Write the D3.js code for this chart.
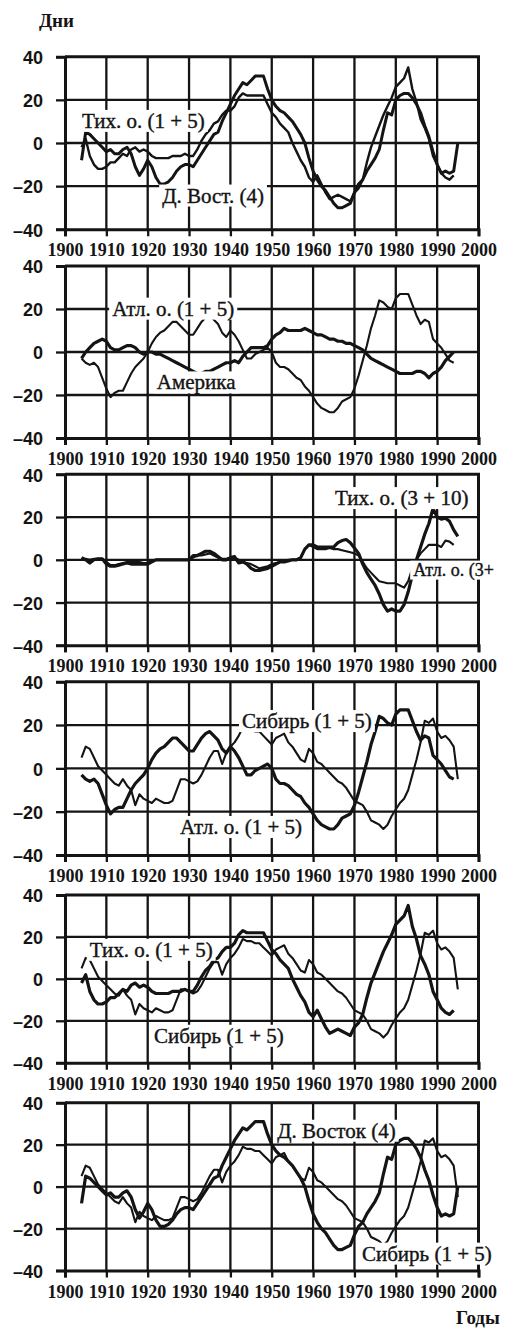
<!DOCTYPE html>
<html><head><meta charset="utf-8">
<script src="https://cdn.jsdelivr.net/npm/d3@7"></script>
<style>body{margin:0;background:#fff} svg{display:block}</style>
</head><body>
<svg id="c" width="506" height="1330"></svg>
<script>
const years = d3.range(1904, 1996);

const pacific15 = [
 -2, 2, -6, -10, -12, -12,
 -11, -9, -9, -7, -5, -6, -3, -2, -4, -3,
 -4, -6, -7, -7, -7, -7, -6, -6, -6, -5,
 -6, -6, -3, 1, 4, 6, 9, 10, 13, 15,
 15, 17, 21, 23, 22, 22, 22, 22, 22, 18,
 14, 12, 9, 7, 5, 0, -4, -8, -11, -16,
 -18, -15, -19, -23, -26, -25, -24, -25, -26, -27,
 -23, -21, -17, -9, -2, 3, 8, 13, 17, 21,
 26, 28, 30, 35, 25, 19, 11, 7, 2, -6,
 -10, -14, -16, -17, -15, null];

const farEast = [
 -8, 5, 4, 2, 0, -2,
 -4, -3, -5, -5, -3, -2, -5, -11, -15, -12,
 -8, -11, -16, -19, -19, -18, -16, -13, -11, -10,
 -10, -11, -8, -5, -2, 1, 4, 5, 10, 14,
 18, 22, 25, 28, 27, 29, 31, 31, 31, 25,
 20, 17, 15, 14, 12, 10, 7, 4, 0, -7,
 -13, -17, -20, -22, -25, -28, -30, -30, -29, -28,
 -23, -19, -17, -13, -10, -7, -3, 6, 14, 13,
 20, 22, 23, 23, 21, 18, 14, 8, 3, -4,
 -10, -14, -13, -14, -13, 0];

const siberia = [
 5, 10, 9, 5, 1, -1,
 -3, -5, -7, -8, -5, -8, -10, -17, -12, -14,
 -15, -16, -14, -15, -16, -16, -15, -10, -5, -5,
 -6, -7, -6, -3, 1, 5, 8, 8, 2, 7,
 10, 12, 15, 19, 18, 18, 17, 17, 15, 13,
 11, 14, 15, 16, 12, 10, 7, 4, 3, 9,
 7, 3, 2, 0, -2, -4, -6, -7, -9, -12,
 -15, -16, -17, -20, -24, -25, -26, -28, -26, -22,
 -19, -16, -14, -10, -3, 4, 12, 22, 21, 23,
 17, 14, 15, 13, 10, -5];

const atlantic15 = [
 -3, -5, -6, -5, -7, -12,
 -17, -21, -19, -18, -18, -14, -10, -7, -5, -3,
 0, 4, 7, 9, 10, 12, 14, 14, 12, 10,
 8, 8, 11, 14, 16, 17, 15, 13, 9, 7,
 10, 8, 5, 1, -3, -3, -1, 0, 1, 2,
 0, -5, -7, -7, -8, -10, -12, -13, -16, -18,
 -21, -24, -26, -27, -28, -28, -26, -23, -22, -21,
 -17, -11, -4, 3, 11, 17, 24, 23, 21, 20,
 25, 27, 27, 27, 22, 17, 13, 15, 14, 6,
 4, 2, -1, -4, -5, null];

const america = [
 -3, 0, 2, 4, 5, 6,
 5, 2, 1, 1, 2, 3, 3, 2, 0, -1,
 0, 0, -1, -1, -2, -3, -4, -5, -6, -7,
 -8, -9, -10, -10, -9, -9, -8, -7, -6, -5,
 -5, -4, -5, -2, 0, 2, 2, 2, 2, 3,
 6, 8, 9, 11, 10, 10, 10, 10, 11, 10,
 9, 8, 8, 7, 6, 6, 5, 5, 4, 4,
 3, 2, 1, -1, -3, -4, -5, -6, -7, -8,
 -9, -10, -10, -10, -10, -9, -9, -10, -12, -10,
 -9, -7, -4, -2, 0, null];

const pacific310 = [
 1, 0, -1.5, 0, 0.5, 0.5,
 -2, -3, -3, -2.5, -2, -1.5, -2, -2, -2, -2,
 -2, -1, 0, 0, 0, 0, 0, 0, 0, 0,
 0, 2, 2, 3, 4, 4, 3, 1.5, 0, 0,
 1, 1.5, -1.5, -1, -2, -4, -5, -5, -4.5, -4,
 -3, -2, -1, -1, -0.5, 0, 0, 1, 5, 7,
 7, 6, 6, 6, 6, 6, 8, 9, 9.5, 8,
 5.5, 3, -2, -6, -9, -12, -16, -21, -24, -23,
 -24, -24, -21, -15, -7, 0, 6, 12, 17, 24,
 20, 19, 19.5, 18, 14, 11];

const atlantic310 = [
 0.5, 0.5, 0, 0.5, 0.5, 0.5,
 -1, -2.5, -2.5, -2, -1.5, -1, -1, -1, -1, -1.5,
 -1.5, -0.5, 0, 0, 0, 0, 0, 0, 0, 0,
 0, 1, 2, 2, 2.5, 3, 2, 1, 0.5, 0.5,
 1, 1, 0, -1, -1.5, -2, -3, -4, -3.5, -3,
 -2, -1.5, -1, -0.5, 0, 0, 0, 1, 5, 7,
 6, 5, 5, 5, 5.5, 5, 5, 4.5, 4, 3.5,
 3, 2, -1, -4, -6, -8, -10, -10.5, -11, -11,
 -11, -12, -13, -10, -4, 0, 3, 5, 7, 7,
 7, 6, 9, 8.5, 7, null];

const xTicks = d3.range(1900, 2001, 10);
const yTicks = [-40, -20, 0, 20, 40];
const yTickLabels = ["–40", "–20", "0", "20", "40"];

// layout (pixel geometry kept separate from the data)
const X0 = 65, X1 = 478.5;
const panels = [
  {top: 56.7, bottom: 229.3,
   series: [{d: pacific15, w: 2.4}, {d: farEast, w: 3.0}],
   labels: [{t: "Тих. о. (1 + 5)", yr: 1904.1, v: 7}, {t: "Д. Вост. (4)", yr: 1923.5, v: -27.6}]},
  {top: 266, bottom: 438,
   series: [{d: atlantic15, w: 2.1}, {d: america, w: 3.2}],
   labels: [{t: "Атл. о. (1 + 5)", yr: 1911.4, v: 16.9}, {t: "Америка", yr: 1922.2, v: -17.4}]},
  {top: 474.3, bottom: 645.3,
   series: [{d: atlantic310, w: 2.1}, {d: pacific310, w: 3.2}],
   labels: [{t: "Тих. о. (3 + 10)", yr: 1965.3, v: 25.6}, {t: "Атл. о. (3+", yr: 1984.2, v: -7.4, fs: 18}]},
  {top: 681.7, bottom: 855,
   series: [{d: siberia, w: 2.1}, {d: atlantic15, w: 3.2}],
   labels: [{t: "Сибирь (1 + 5)", yr: 1942.8, v: 18.6}, {t: "Атл. о. (1 + 5)", yr: 1927.8, v: -30.3}]},
  {top: 895, bottom: 1062.7,
   series: [{d: siberia, w: 2.1}, {d: pacific15, w: 3.2}],
   labels: [{t: "Тих. о. (1 + 5)", yr: 1906, v: 10.5}, {t: "Сибирь (1 + 5)", yr: 1921.5, v: -30.5}]},
  {top: 1102.7, bottom: 1270.5,
   series: [{d: siberia, w: 2.1}, {d: farEast, w: 3.2}],
   labels: [{t: "Д. Восток (4)", yr: 1951.3, v: 23.3}, {t: "Сибирь (1 + 5)", yr: 1971.8, v: -35.3}]}
];

const svg = d3.select("#c");
const ink = "#141414";
const x = d3.scaleLinear().domain([1900, 2000]).range([X0, X1]);

svg.append("text").attr("x", 39).attr("y", 27)
  .style("font-family", "'Liberation Serif'").style("font-weight", "bold").style("font-size", "19px")
  .attr("fill", ink).text("Дни");
svg.append("text").attr("x", 456).attr("y", 1324)
  .style("font-family", "'Liberation Serif'").style("font-weight", "bold").style("font-size", "19px")
  .attr("fill", ink).text("Годы");

panels.forEach(p => {
  const y = d3.scaleLinear().domain([-40, 40]).range([p.bottom, p.top]);
  const g = svg.append("g");

  // grid
  g.append("g").selectAll("line").data(xTicks.slice(1, -1)).join("line")
    .attr("x1", d => x(d)).attr("x2", d => x(d)).attr("y1", p.top).attr("y2", p.bottom)
    .attr("stroke", ink).attr("stroke-width", 2.3);
  g.append("g").selectAll("line").data(yTicks.slice(1, -1)).join("line")
    .attr("x1", X0).attr("x2", X1).attr("y1", d => y(d)).attr("y2", d => y(d))
    .attr("stroke", ink).attr("stroke-width", 2.3);

  // labels with white backgrounds
  const lab = g.append("g");
  const texts = lab.selectAll("text").data(p.labels).join("text")
    .attr("x", d => x(d.yr)).attr("y", d => y(d.v))
    .style("font-family", "'Liberation Serif'").style("font-size", d => (d.fs || 21) + "px")
    .attr("fill", ink).attr("stroke", ink).attr("stroke-width", 0.4)
    .text(d => d.t);
  texts.each(function() {
    const b = this.getBBox();
    lab.insert("rect", "text").attr("x", b.x - 3).attr("y", b.y + 1)
      .attr("width", Math.min(b.width + 6, 506 - b.x + 3)).attr("height", b.height - 2).attr("fill", "#fff");
  });

  // axes with outward ticks
  const xa = d3.axisBottom(x).tickValues(xTicks).tickSize(7).tickFormat(d3.format("d"));
  const ax = g.append("g").attr("transform", `translate(0,${p.bottom})`).call(xa);
  ax.select(".domain").attr("stroke", ink).attr("stroke-width", 3);
  ax.selectAll(".tick line").attr("stroke", ink).attr("stroke-width", 2.3);
  ax.selectAll(".tick text").attr("y", 0).attr("dy", 27)
    .style("font-family", "'Liberation Serif'").style("font-weight", "bold")
    .style("font-size", "18px").attr("fill", ink);

  const ya = d3.axisLeft(y).tickValues(yTicks).tickSize(9).tickFormat((d, i) => yTickLabels[i]);
  const ay = g.append("g").attr("transform", `translate(${X0},0)`).call(ya);
  ay.select(".domain").attr("stroke", ink).attr("stroke-width", 3);
  ay.selectAll(".tick line").attr("stroke", ink).attr("stroke-width", 2.3);
  ay.selectAll(".tick text").attr("x", -22).attr("dy", "0.38em")
    .style("font-family", "'Liberation Sans'").style("font-weight", "bold")
    .style("font-size", "18px").attr("fill", ink);

  // frame top/right
  g.append("path").attr("d", `M${X0},${p.top}H${X1}V${p.bottom}`)
    .attr("fill", "none").attr("stroke", ink).attr("stroke-width", 3);

  // data lines
  const line = d3.line().defined(d => d[1] !== null)
    .x(d => x(d[0])).y(d => y(d[1])).curve(d3.curveLinear);
  p.series.forEach(s => {
    g.append("path").datum(years.map((yr, i) => [yr, s.d[i]]))
      .attr("d", line).attr("fill", "none").attr("stroke", ink)
      .attr("stroke-width", s.w).attr("stroke-linejoin", "round");
  });

  lab.raise();
  lab.selectAll("rect").lower();
});
</script>
</body></html>
